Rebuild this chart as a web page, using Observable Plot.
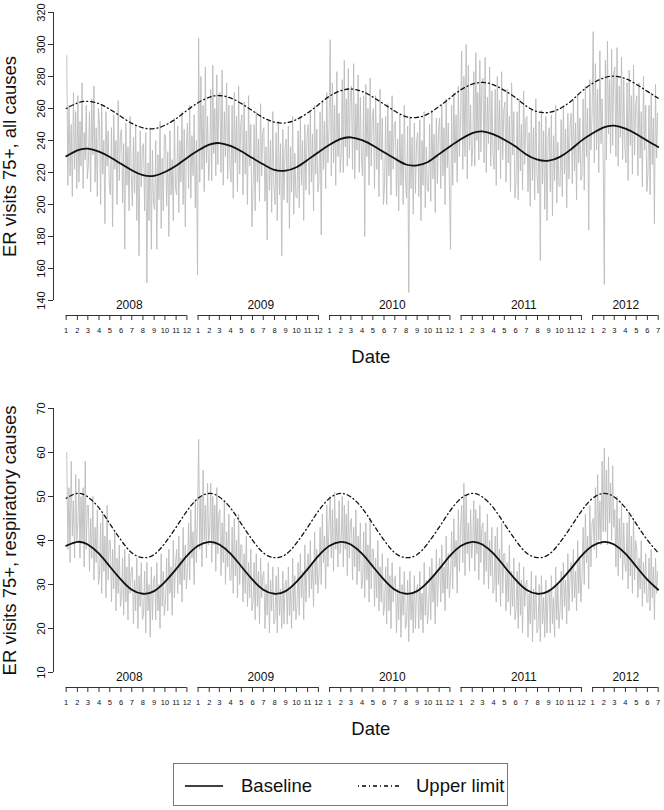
<!DOCTYPE html>
<html>
<head>
<meta charset="utf-8">
<script src="https://cdn.jsdelivr.net/npm/d3@7"></script>
<script src="https://cdn.jsdelivr.net/npm/@observablehq/plot@0.6"></script>
<style>
  body { margin: 0; background: #fff; font-family: "Liberation Sans", Arial, sans-serif; }
  #chart svg { display: block; }
  #legend { position: relative; margin: 13px 0 0 173px; width: 333px; height: 41px; border: 1px solid #777; font-size: 18.5px; color: #111; }
  #legend span { position: absolute; top: 11px; line-height: 22px; white-space: nowrap; }
  #legend svg { position: absolute; top: 20px; }
</style>
</head>
<body>
<div id="chart"></div>
<div id="legend">
  <svg style="left:11px" width="38" height="4"><line x1="0" x2="38" y1="2" y2="2" stroke="#000" stroke-width="1.6"/></svg>
  <span style="left:67px">Baseline</span>
  <svg style="left:184px" width="42" height="4"><line x1="0" x2="42" y1="2" y2="2" stroke="#000" stroke-width="1.3" stroke-dasharray="1,3,4,3"/></svg>
  <span style="left:242px">Upper limit</span>
</div>
<script>
// ---------- data ----------
const startDate = "2008-01-01";
const endDate = "2012-07-01";
const yearNames = ["2008", "2009", "2010", "2011", "2012"];
const yearLabelDates = ["2008-06-24", "2009-06-24", "2010-06-24", "2011-06-24", "2012-04-02"];

const allTicks = [140, 160, 180, 200, 220, 240, 260, 280, 300, 320];
const respTicks = [10, 20, 30, 40, 50, 60, 70];

// monthly readings of the fitted curves (Jan 2008 ... Jul 2012)
const allBaseline = [
  230.1, 233.8, 234.9, 233.0, 229.7, 225.4, 221.4, 218.3, 217.9, 220.3, 224.2, 229.1,
  233.7, 237.4, 238.4, 236.6, 233.3, 229.0, 225.1, 221.6, 221.2, 223.3, 227.9, 232.7,
  237.3, 241.0, 242.0, 240.2, 236.9, 232.6, 228.7, 225.0, 224.5, 226.6, 231.5, 236.3,
  240.9, 244.6, 245.7, 243.8, 240.5, 236.2, 231.3, 228.0, 227.4, 229.6, 234.3, 239.9,
  244.5, 248.2, 249.3, 247.4, 244.1, 239.8, 235.9
];
const allUpper = [
  260.0, 263.4, 264.5, 263.0, 259.5, 255.0, 250.7, 247.9, 247.4, 249.5, 253.6, 258.8,
  263.6, 267.0, 268.1, 266.6, 263.1, 258.6, 254.3, 251.5, 251.0, 253.1, 257.2, 262.4,
  267.7, 271.1, 272.2, 270.7, 267.2, 262.7, 258.4, 254.9, 254.4, 256.6, 261.3, 266.5,
  271.8, 275.2, 276.3, 274.8, 271.3, 266.8, 261.5, 258.0, 257.5, 259.8, 264.4, 270.6,
  275.7, 279.1, 280.2, 278.7, 275.2, 270.7, 266.4
];
const respBaseline = [
  38.8, 39.7, 39.1, 37.0, 34.1, 31.1, 28.8, 27.9, 28.5, 30.6, 33.5, 36.5,
  38.8, 39.7, 39.1, 37.0, 34.1, 31.1, 28.8, 27.9, 28.5, 30.6, 33.5, 36.5,
  38.8, 39.7, 39.1, 37.0, 34.1, 31.1, 28.8, 27.9, 28.5, 30.6, 33.5, 36.5,
  38.8, 39.7, 39.1, 37.0, 34.1, 31.1, 28.8, 27.9, 28.5, 30.6, 33.5, 36.5,
  38.8, 39.7, 39.1, 37.0, 34.1, 31.1, 28.8
];
const respUpper = [
  49.6, 50.7, 49.9, 47.4, 43.8, 40.1, 37.2, 36.1, 36.8, 39.4, 43.0, 46.7,
  49.6, 50.7, 49.9, 47.4, 43.8, 40.1, 37.2, 36.1, 36.8, 39.4, 43.0, 46.7,
  49.6, 50.7, 49.9, 47.4, 43.8, 40.1, 37.2, 36.1, 36.8, 39.4, 43.0, 46.7,
  49.6, 50.7, 49.9, 47.4, 43.8, 40.1, 37.2, 36.1, 36.8, 39.4, 43.0, 46.7,
  49.6, 50.7, 49.9, 47.4, 43.8, 40.1, 37.2
];

// observed daily counts, sampled ~every 3 days (one row per month, Jan 2008 ... Jun 2012)
const allVisits = [
  [293,212,262,218,250,205,270,222,258,210],
  [268,214,252,224,276,210,245,228,262,216],
  [225,258,208,266,231,274,214,248,205,260],
  [250,200,262,219,240,188,258,224,246,212],
  [206,248,186,256,222,240,200,265,215,244],
  [247,201,238,172,251,212,236,196,255,219],
  [199,242,207,250,190,233,168,246,211,236],
  [238,196,245,151,226,190,248,172,234,201],
  [197,240,172,231,203,252,185,229,196,244],
  [243,199,233,180,246,206,228,190,254,210],
  [206,249,195,240,214,258,200,247,186,236],
  [251,210,262,204,243,218,256,198,240,156],
  [304,214,280,222,262,208,286,226,255,215],
  [228,272,215,287,232,260,218,281,225,266],
  [270,220,284,212,258,230,276,216,262,224],
  [214,262,204,270,226,255,208,274,219,250],
  [256,206,264,219,246,200,268,224,250,186],
  [209,250,196,258,214,241,202,263,218,245],
  [248,202,236,178,252,209,240,195,258,212],
  [200,245,190,252,206,238,168,247,203,235],
  [241,201,249,185,236,208,255,194,232,205],
  [204,246,198,255,212,240,190,250,209,243],
  [250,206,258,214,244,196,262,219,247,208],
  [214,258,181,265,222,252,210,270,226,248],
  [303,218,276,226,262,212,283,230,257,220],
  [232,278,220,290,236,266,224,285,229,270],
  [274,222,288,216,263,234,281,220,267,228],
  [218,268,180,275,230,260,212,279,224,255],
  [260,210,268,222,251,205,272,228,254,200],
  [212,255,200,263,218,246,206,268,222,250],
  [252,205,241,196,256,212,244,200,262,216],
  [204,249,145,255,210,242,194,251,207,239],
  [245,205,253,190,240,212,258,198,236,209],
  [208,250,202,259,216,244,195,254,213,247],
  [254,210,262,218,248,200,266,223,251,212],
  [172,262,212,270,226,256,214,274,230,252],
  [296,222,280,230,300,216,287,234,262,224],
  [236,283,224,295,240,270,228,290,233,275],
  [279,226,292,220,267,238,286,224,271,232],
  [222,272,212,280,234,265,216,283,228,259],
  [264,214,272,226,255,208,276,231,258,204],
  [215,258,203,266,221,250,209,271,225,253],
  [255,208,245,199,260,215,248,203,266,219],
  [207,252,165,259,213,246,197,255,190,242],
  [248,208,256,193,243,215,262,201,239,212],
  [211,253,205,262,219,247,198,257,216,250],
  [257,213,265,221,251,203,269,226,254,215],
  [219,266,209,274,230,260,184,278,234,256],
  [308,226,288,234,272,220,296,238,266,228],
  [150,290,228,302,244,278,232,297,237,282],
  [286,230,298,224,274,242,292,228,278,236],
  [226,276,215,284,237,268,219,287,231,262],
  [268,218,276,229,258,211,280,234,262,208],
  [219,262,206,270,225,254,188,275,229,257]
];
const respVisits = [
  [60,38,52,35,58,41,49,36,55,40],
  [44,54,36,50,40,52,34,58,38,48],
  [48,33,45,36,50,31,43,35,47,30],
  [32,44,28,46,33,41,27,48,31,40],
  [40,26,38,29,42,24,36,28,39,25],
  [27,36,23,38,26,34,22,37,28,33],
  [34,21,31,24,36,20,32,25,35,22],
  [23,33,19,35,24,30,18,34,22,31],
  [32,22,35,24,30,20,37,25,33,23],
  [26,36,24,38,28,34,23,40,27,35],
  [38,28,41,30,36,26,43,31,39,29],
  [33,44,31,47,36,42,30,49,35,45],
  [63,38,50,34,56,40,48,36,53,39],
  [43,53,35,50,39,48,33,52,37,46],
  [47,32,44,35,49,30,42,34,46,31],
  [31,43,28,45,32,40,27,46,30,39],
  [39,26,37,28,41,25,35,27,38,24],
  [26,35,22,37,25,33,21,36,27,32],
  [33,20,30,23,35,19,31,24,34,21],
  [22,32,19,34,23,29,20,33,21,30],
  [31,21,34,23,29,20,36,24,32,22],
  [25,35,23,37,27,33,22,39,26,34],
  [37,27,40,29,35,25,42,30,38,28],
  [32,43,30,46,35,41,29,48,34,44],
  [50,36,47,33,51,38,45,34,49,37],
  [41,50,34,48,38,46,32,49,36,44],
  [45,31,43,34,47,30,41,33,44,29],
  [30,42,27,44,31,39,26,45,29,38],
  [38,25,36,27,40,24,34,26,37,23],
  [25,34,21,36,24,32,20,35,26,31],
  [32,19,29,22,34,18,30,23,33,20],
  [21,31,17,33,22,28,19,32,20,29],
  [30,20,33,22,28,19,35,23,31,21],
  [24,34,22,36,26,32,21,38,25,33],
  [36,26,39,28,34,24,41,29,37,27],
  [31,42,29,45,34,40,28,47,33,43],
  [48,35,53,32,50,37,44,33,47,36],
  [40,49,33,47,37,45,31,48,35,43],
  [44,30,42,33,46,29,40,32,43,28],
  [29,41,26,43,30,38,25,44,28,37],
  [37,24,35,26,39,23,33,25,36,22],
  [24,33,20,35,23,31,19,34,25,30],
  [31,18,28,21,33,17,29,22,32,19],
  [20,30,17,32,21,27,18,31,19,28],
  [29,19,32,21,27,18,34,22,30,20],
  [24,33,22,35,25,31,21,37,24,32],
  [35,26,38,27,33,24,40,28,36,26],
  [32,43,30,46,35,41,29,48,34,44],
  [45,38,52,36,55,40,49,39,58,42],
  [61,42,56,39,59,44,53,40,57,43],
  [47,34,50,32,45,36,48,31,44,35],
  [33,44,29,46,32,41,28,45,31,40],
  [38,27,36,29,40,25,35,28,37,26],
  [26,36,24,38,27,34,22,36,28,33]
];

// ---------- helpers ----------
const x0 = new Date(startDate + "T00:00:00Z");
const x1 = new Date(endDate + "T00:00:00Z");
const monthStarts = d3.utcMonth.range(x0, d3.utcDay.offset(x1, 1));
const curve = vals => vals.map((v, i) => ({date: monthStarts[i], value: v}));
function daily(rows) {
  const out = [];
  rows.forEach((arr, m) => {
    const s = +monthStarts[m], e = +monthStarts[m + 1];
    arr.forEach((v, i) => out.push({date: new Date(s + (i + 0.5) / arr.length * (e - s)), value: v}));
  });
  return out;
}
const yearSegs = yearNames.map((y, i) => {
  const ms = monthStarts.filter(d => d.getUTCFullYear() === +y);
  return {year: y, start: ms[0], end: ms[ms.length - 1], label: new Date(yearLabelDates[i] + "T00:00:00Z")};
});
const font = '"Liberation Sans", Arial, Helvetica, sans-serif';

function panel({rows, base, upper, domain, ticks, ylabel, height, marginTop, marginBottom}) {
  const y0 = domain[0];
  return Plot.plot({
    width: 664, height, marginLeft: 53, marginRight: 6.3, marginTop, marginBottom,
    style: {fontFamily: font, background: "#fff", color: "#111"},
    x: {type: "utc", domain: [x0, x1], insetLeft: 12.7, axis: null},
    y: {domain},
    marks: [
      Plot.line(daily(rows), {x: "date", y: "value", stroke: "#bcbcbc", strokeWidth: 0.9}),
      Plot.line(curve(upper), {x: "date", y: "value", stroke: "#111", strokeWidth: 1.3, strokeDasharray: "1,3,4,3", curve: "natural"}),
      Plot.line(curve(base), {x: "date", y: "value", stroke: "#111", strokeWidth: 1.8, curve: "natural"}),
      // y axis
      Plot.ruleX([x0], {x: d => d, y1: domain[0], y2: domain[1], dx: -12.7, stroke: "#333"}),
      Plot.axisY(ticks, {tickSize: 5, tickPadding: 4, tickRotate: -90, fontSize: 11, label: null, stroke: "#333"}),
      Plot.text([ylabel], {frameAnchor: "left", dx: -43, rotate: -90, fontSize: 18.5, textAnchor: "middle", lineAnchor: "middle"}),
      // x axis: one segment per year
      Plot.ruleY(yearSegs, {x1: "start", x2: "end", y: y0, dy: 15, stroke: "#333"}),
      Plot.ruleX(monthStarts, {x: d => d, y1: y0, y2: y0, insetBottom: -5, dy: 15, stroke: "#333"}),
      Plot.text(monthStarts, {x: d => d, y: y0, dy: 30, text: d => String(d.getUTCMonth() + 1), fontSize: 7.5}),
      Plot.text(yearSegs, {x: "label", y: y0, dy: 5, text: "year", fontSize: 12}),
      Plot.text(["Date"], {frameAnchor: "bottom", dx: 15, dy: 62, fontSize: 18.5})
    ]
  });
}

const chart = document.getElementById("chart");
chart.append(panel({rows: allVisits, base: allBaseline, upper: allUpper, domain: [140, 320], ticks: allTicks,
  ylabel: "ER visits 75+, all causes", height: 390, marginTop: 12, marginBottom: 90}));
chart.append(panel({rows: respVisits, base: respBaseline, upper: respUpper, domain: [10, 70], ticks: respTicks,
  ylabel: "ER visits 75+, respiratory causes", height: 360, marginTop: 18, marginBottom: 78}));
</script>
</body>
</html>
